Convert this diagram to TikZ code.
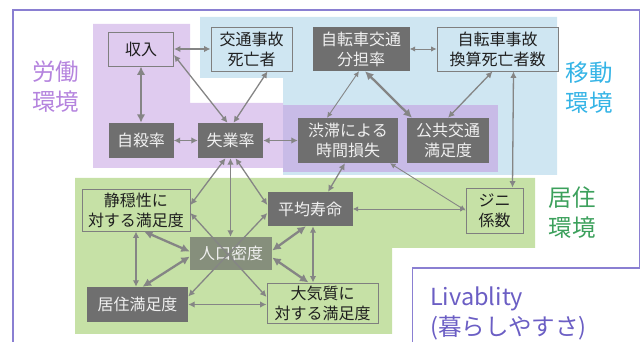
\documentclass[tikz,border=0pt]{standalone}
\usepackage{fontspec}
\setmainfont{Noto Sans CJK JP}
\usetikzlibrary{arrows.meta}
\definecolor{regblue}{HTML}{CFE6F2}
\definecolor{regpurple}{HTML}{DFCBEF}
\definecolor{reglav}{HTML}{C8BBE7}
\definecolor{reggreen}{HTML}{C6E1A6}
\definecolor{darkfill}{HTML}{6F6F6F}
\definecolor{olivefill}{HTML}{868F7C}
\definecolor{boxborder}{HTML}{7F7F7F}
\definecolor{arrowgray}{HTML}{858585}
\definecolor{framecol}{HTML}{8A7FD2}
\definecolor{labpurple}{HTML}{B584DE}
\definecolor{labblue}{HTML}{35B4E6}
\definecolor{labgreen}{HTML}{3CA05C}
\definecolor{labliv}{HTML}{6B5EC4}
\newcommand{\boxfont}{\fontsize{16}{20}\selectfont}
\newcommand{\bigfont}{\fontsize{23.5}{30}\selectfont}
\begin{document}
\begin{tikzpicture}[x=1pt,y=-1pt,
  darkbox/.style={fill=darkfill, text=white!94!black, inner sep=0pt, align=center, font=\boxfont},
  lightbox/.style={draw=boxborder, line width=0.9pt, text=black!88, inner sep=0pt, align=center, font=\boxfont},
  link/.style={draw=arrowgray, line width=1.3pt, {Latex[length=6.5pt,width=6.5pt]}-{Latex[length=6.5pt,width=6.5pt]}},
  thinlink/.style={draw=arrowgray, line width=0.9pt, {Latex[length=5.5pt,width=5.5pt]}-{Latex[length=5.5pt,width=5.5pt]}},
  thicklink/.style={draw=arrowgray, line width=2.3pt, {Latex[length=8.5pt,width=8.5pt]}-{Latex[length=8.5pt,width=8.5pt]}},
  biglabel/.style={font=\bigfont, align=center, inner sep=0pt}
]
\useasboundingbox (0,0) rectangle (641,342);
% regions
\fill[regblue] (200,17) -- (557,17) -- (557,175) -- (283,175) -- (283,78) -- (200,78) -- cycle;
\fill[regpurple] (93,24) -- (190,24) -- (190,103) -- (283,103) -- (283,168) -- (93,168) -- cycle;
\fill[reglav] (283,105) rectangle (498,172);
\fill[reggreen] (75,178) -- (535,178) -- (535,248) -- (392,248) -- (392,334) -- (75,334) -- cycle;
% frame
\draw[framecol, line width=1.1pt] (13,342) -- (13,10) -- (639.5,10) -- (639.5,268) -- (412.5,268) -- (412.5,342);
% labels
\node[biglabel, text=labpurple] (lab1) at (56,87) {労働\\環境};
\node[biglabel, text=labblue] (lab2) at (589,88) {移動\\環境};
\node[biglabel, text=labgreen] (lab3) at (572,213) {居住\\環境};
\node[biglabel, text=labliv, align=left, anchor=west] (lab4) at (430,313) {Livablity\\(暮らしやすさ)};
% nodes
\node[lightbox, minimum width=65pt, minimum height=34pt] (shunyu) at (141,49) {収入};
\node[lightbox, fill=regblue, minimum width=81pt, minimum height=44pt] (jiko) at (251.5,49) {交通事故\\死亡者};
\node[darkbox, minimum width=97pt, minimum height=44pt] (bunt) at (361,49) {自転車交通\\分担率};
\node[lightbox, fill=regblue, minimum width=121pt, minimum height=44pt] (jiko2) at (497.5,49) {自転車事故\\換算死亡者数};
\node[darkbox, minimum width=65pt, minimum height=35pt] (jisatsu) at (141,140.5) {自殺率};
\node[darkbox, minimum width=65pt, minimum height=35pt] (shitsu) at (230.5,140.5) {失業率};
\node[darkbox, minimum width=100pt, minimum height=45pt] (jutai) at (348,140.5) {渋滞による\\時間損失};
\node[darkbox, minimum width=82pt, minimum height=45pt] (koukyo) at (448,140.5) {公共交通\\満足度};
\node[lightbox, fill=reggreen, minimum width=108pt, minimum height=42pt] (seion) at (136,210) {静穏性に\\対する満足度};
\node[darkbox, minimum width=85pt, minimum height=34pt] (heikin) at (310,209) {平均寿命};
\node[darkbox, fill=olivefill, minimum width=82pt, minimum height=33pt] (jinko) at (231,253.5) {人口密度};
\node[darkbox, minimum width=101pt, minimum height=35pt] (kyoju) at (137.5,304.5) {居住満足度};
\node[lightbox, fill=reggreen, minimum width=111pt, minimum height=40pt] (taiki) at (322.5,303) {大気質に\\対する満足度};
\node[lightbox, fill=reggreen, minimum width=57pt, minimum height=45pt] (gini) at (494.5,210.5) {ジニ\\係数};
% connectors
\draw[link] (shunyu.east) -- (shunyu.east -| jiko.west);
\draw[thicklink] (shunyu.south) -- (jisatsu.north);
\draw[link] ([yshift=-6pt]shunyu.east) -- ([xshift=-3pt]shitsu.north);
\draw[link] ([xshift=16pt]jiko.south) -- ([xshift=3pt]shitsu.north);
\draw[link] (jisatsu.east) -- (shitsu.west);
\draw[link] (shitsu.east) -- (shitsu.east -| jutai.west);
\draw[thinlink] (bunt.east) -- (jiko2.west);
\draw[thinlink] ([xshift=-2pt]bunt.south) -- ([xshift=-21pt]jutai.north);
\draw[thicklink] ([xshift=4pt]bunt.south) -- ([xshift=-36pt]koukyo.north);
\draw[link] ([xshift=-5pt]jiko2.south) -- (koukyo.north);
\draw[link] ([xshift=16pt]jiko2.south) -- ([xshift=18pt]gini.north);
\draw[link] ([xshift=-3pt]jutai.south) -- ([xshift=18pt]heikin.north);
\draw[thinlink] ([xshift=42pt]jutai.south) -- (gini.west);
\draw[thinlink] (heikin.east) -- (heikin.east -| gini.west);
\draw[link] ([xshift=-5pt]shitsu.south) -- ([yshift=5pt]seion.east);
\draw[link] (shitsu.south) -- (shitsu.south |- jinko.north);
\draw[link] ([xshift=5pt]shitsu.south) -- ([yshift=4pt]heikin.west);
\draw[link] ([yshift=-3pt]seion.east) -- ([yshift=6pt]taiki.west);
\draw[link] ([yshift=-4pt]heikin.west) -- ([yshift=8pt]kyoju.east);
\draw[thicklink] ([xshift=8pt]seion.south) -- ([yshift=2pt]jinko.west);
\draw[thicklink] ([xshift=5pt]kyoju.north) -- ([yshift=-3pt]jinko.west);
\draw[link] (seion.south) -- (seion.south |- kyoju.north);
\draw[thicklink] ([yshift=3pt]jinko.east) -- ([xshift=-4pt]heikin.south);
\draw[thicklink] ([yshift=-4pt]jinko.east) -- ([xshift=-14pt]taiki.north);
\draw[link] ([xshift=3pt]heikin.south) -- ([xshift=3pt]heikin.south |- taiki.north);
\draw[link] (kyoju.east) -- (kyoju.east -| taiki.west);
\end{tikzpicture}
\end{document}
